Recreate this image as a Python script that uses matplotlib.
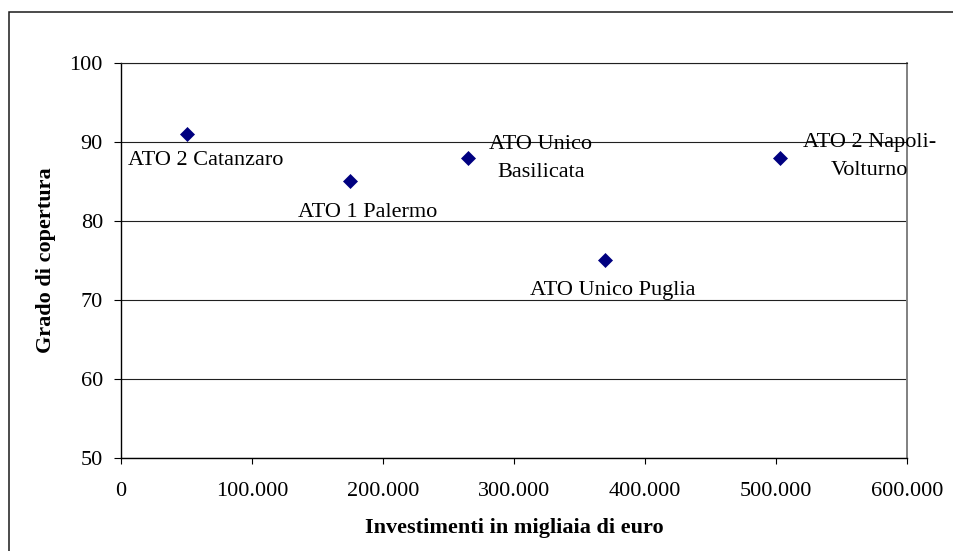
import matplotlib
matplotlib.use("Agg")
import matplotlib.pyplot as plt
from matplotlib.patches import Rectangle
from matplotlib.ticker import FuncFormatter, MultipleLocator

plt.rcParams['font.family'] = ['Liberation Serif', 'DejaVu Serif']

# investimenti (migliaia di euro) e grado di copertura per ATO
ato = ['ATO 2 Catanzaro', 'ATO 1 Palermo', 'ATO Unico\nBasilicata',
       'ATO Unico Puglia', 'ATO 2 Napoli-\nVolturno']
investimenti = [50000, 175000, 265000, 369000, 503000]
copertura = [91, 85, 88, 75, 88]

# posizione delle etichette rispetto al punto (punti tipografici, baseline ultima riga)
offs = [(13.9, -22.2), (12.2, -25.7), (52.2, -13.6), (6.1, -25.0), (64.0, -12.6)]

fig = plt.figure(figsize=(9.54, 5.51), dpi=100)
ax = fig.add_axes([121/954, 1-457.7/551, 786.3/954, 394.7/551])

ax.plot(investimenti, copertura, linestyle='none', marker='D', markersize=7,
        color='#000080', markeredgewidth=0.5, zorder=3)

for name, x, y, (dx, dy) in zip(ato, investimenti, copertura, offs):
    ax.annotate(name, (x, y), xytext=(dx, dy), textcoords='offset points',
                ha='center', va='baseline', fontsize=16, linespacing=1.65,
                multialignment='center')

ax.set_xlim(0, 600000)
ax.set_ylim(50, 100)
ax.xaxis.set_major_locator(MultipleLocator(100000))
ax.yaxis.set_major_locator(MultipleLocator(10))
ax.xaxis.set_major_formatter(FuncFormatter(lambda v, p: f'{int(v):,}'.replace(',', '.')))

ax.yaxis.grid(True, color='#202020', linewidth=0.8)
ax.set_axisbelow(True)
ax.tick_params(axis='x', direction='out', length=4.2, width=0.8, pad=13, labelsize=16)
ax.tick_params(axis='y', direction='out', length=4.7, width=0.8, pad=8.3, labelsize=16)

ax.spines['left'].set_linewidth(1.0)
ax.spines['bottom'].set_linewidth(1.0)
ax.spines['right'].set_color('#808080')
ax.spines['right'].set_linewidth(1.4)
ax.spines['top'].set_color('#202020')
ax.spines['top'].set_linewidth(0.8)

ax.set_xlabel('Investimenti in migliaia di euro', fontsize=16, fontweight='bold', va='center')
ax.xaxis.set_label_coords(0.5, -(528-457.7)/394.7)
ax.set_ylabel('Grado di copertura', fontsize=16, fontweight='bold', va='center')
ax.yaxis.set_label_coords((46-121)/786.3, 0.5)

# cornice esterna del grafico
fig.patches.append(Rectangle((9/954, -0.1), 2, 1-12/551+0.1, transform=fig.transFigure,
                             fill=False, edgecolor='#1a1a1a', linewidth=1.1))

fig.savefig('out.png', dpi=100)
